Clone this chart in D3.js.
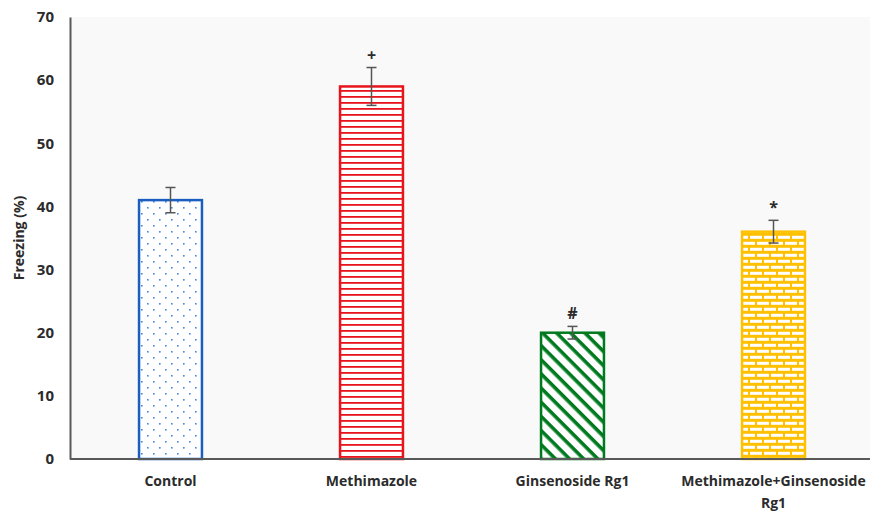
<!DOCTYPE html>
<html>
<head>
<meta charset="utf-8">
<script src="https://cdn.jsdelivr.net/npm/d3@7"></script>
<style>
  html, body { margin: 0; padding: 0; background: #ffffff; }
  svg text { font-family: "Open Sans", Lato, sans-serif; font-weight: 700; fill: #2b2b2b; }
</style>
</head>
<body>
<svg id="chart" width="870" height="513"></svg>
<script>
// Freezing behaviour per treatment group
const categories = ["Control", "Methimazole", "Ginsenoside Rg1", "Methimazole+Ginsenoside Rg1"];
const freezing = [41, 59, 20, 36];
const errors = [2, 3, 1, 1.8];
const markers = ["", "+", "#", "*"];
const yTicks = [0, 10, 20, 30, 40, 50, 60, 70];

const colors = ["#1a5fbf", "#e8141c", "#007a1e", "#ffc000"];
const patternIds = ["pDots", "pHLines", "pDiag", "pBrick"];

const svg = d3.select("#chart");
const x0 = 70, x1 = 874, yTop = 17, yBottom = 459;

const x = d3.scaleBand().domain(categories).range([x0, x1]).paddingInner(0.687).paddingOuter(0.3435);
const y = d3.scaleLinear().domain([0, 70]).range([yBottom, yTop]);

// Fill patterns
const defs = svg.append("defs");
const dots = defs.append("pattern").attr("id", "pDots").attr("patternUnits", "userSpaceOnUse")
  .attr("width", 12).attr("height", 12);
dots.append("rect").attr("width", 12).attr("height", 12).attr("fill", "#ffffff");
dots.append("rect").attr("x", 3).attr("y", 3).attr("width", 1.6).attr("height", 1.6).attr("fill", "#4a86e0");
dots.append("rect").attr("x", 9).attr("y", 9).attr("width", 1.6).attr("height", 1.6).attr("fill", "#4a86e0");

const hl = defs.append("pattern").attr("id", "pHLines").attr("patternUnits", "userSpaceOnUse")
  .attr("width", 8).attr("height", 6);
hl.append("rect").attr("width", 8).attr("height", 6).attr("fill", "#ffffff");
hl.append("rect").attr("x", 0).attr("y", 0).attr("width", 8).attr("height", 1.8).attr("fill", colors[1]);

const dg = defs.append("pattern").attr("id", "pDiag").attr("patternUnits", "userSpaceOnUse")
  .attr("width", 10).attr("height", 10).attr("patternTransform", "rotate(45)");
dg.append("rect").attr("width", 10).attr("height", 10).attr("fill", "#ffffff");
dg.append("rect").attr("x", 0).attr("y", 0).attr("width", 10).attr("height", 3.6).attr("fill", colors[2]);

const br = defs.append("pattern").attr("id", "pBrick").attr("patternUnits", "userSpaceOnUse")
  .attr("width", 14).attr("height", 12);
br.append("rect").attr("width", 14).attr("height", 12).attr("fill", colors[3]);
br.append("rect").attr("x", 1).attr("y", 1.8).attr("width", 12).attr("height", 3).attr("fill", "#ffffff");
br.append("rect").attr("x", -6).attr("y", 7.8).attr("width", 12).attr("height", 3).attr("fill", "#ffffff");
br.append("rect").attr("x", 8).attr("y", 7.8).attr("width", 12).attr("height", 3).attr("fill", "#ffffff");

// Plot background
svg.append("rect").attr("x", x0).attr("y", yTop).attr("width", 870 - x0).attr("height", yBottom - yTop)
  .attr("fill", "#f9f9f9");

// Y axis
const yAxis = svg.append("g").attr("transform", `translate(${x0},0)`)
  .call(d3.axisLeft(y).tickValues(yTicks).tickSize(0).tickPadding(16));
yAxis.select(".domain").attr("stroke", "#595959").attr("stroke-width", 2);
yAxis.selectAll("text").style("font-size", "15px").attr("fill", "#2b2b2b");

// Bars
const bars = svg.append("g");
bars.selectAll("rect").data(categories).join("rect")
  .attr("x", d => x(d))
  .attr("y", (d, i) => y(freezing[i]))
  .attr("width", x.bandwidth())
  .attr("height", (d, i) => y(0) - y(freezing[i]))
  .attr("fill", (d, i) => `url(#${patternIds[i]})`)
  .attr("stroke", (d, i) => colors[i])
  .attr("stroke-width", 2.5);

// X axis line
svg.append("line").attr("x1", x0).attr("x2", 870).attr("y1", y(0)).attr("y2", y(0))
  .attr("stroke", "#595959").attr("stroke-width", 2);

// Error bars
const eb = svg.append("g").attr("stroke", "#555555").attr("stroke-width", 1.5);
categories.forEach((c, i) => {
  const cx = x(c) + x.bandwidth() / 2;
  const hi = y(freezing[i] + errors[i]), lo = y(freezing[i] - errors[i]);
  eb.append("line").attr("x1", cx).attr("x2", cx).attr("y1", hi).attr("y2", lo);
  eb.append("line").attr("x1", cx - 5).attr("x2", cx + 5).attr("y1", hi).attr("y2", hi);
  eb.append("line").attr("x1", cx - 5).attr("x2", cx + 5).attr("y1", lo).attr("y2", lo);
});

// Significance markers
svg.append("g").selectAll("text").data(categories).join("text")
  .attr("x", d => x(d) + x.bandwidth() / 2)
  .attr("y", (d, i) => y(freezing[i] + errors[i]) - 7)
  .attr("text-anchor", "middle")
  .style("font-size", "16px")
  .attr("fill", "#404040")
  .text((d, i) => markers[i]);

// Category labels
const labelLines = [["Control"], ["Methimazole"], ["Ginsenoside Rg1"], ["Methimazole+Ginsenoside", "Rg1"]];
categories.forEach((c, i) => {
  const t = svg.append("text")
    .attr("x", x(c) + x.bandwidth() / 2)
    .attr("y", 486)
    .attr("text-anchor", "middle")
    .style("font-size", "14px");
  labelLines[i].forEach((line, k) => {
    t.append("tspan").attr("x", x(c) + x.bandwidth() / 2).attr("dy", k === 0 ? 0 : 22).text(line);
  });
});

// Y axis title
svg.append("text")
  .attr("transform", `translate(24,${(yTop + yBottom) / 2}) rotate(-90)`)
  .attr("text-anchor", "middle")
  .style("font-size", "14px")
  .text("Freezing (%)");
</script>
</body>
</html>
